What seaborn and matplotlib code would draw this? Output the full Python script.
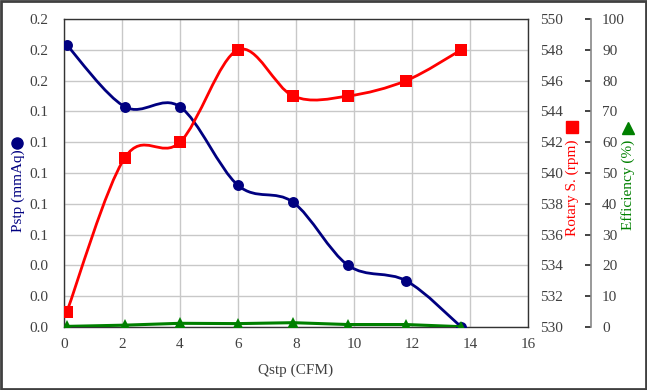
import numpy as np
import pandas as pd
import matplotlib
matplotlib.use("Agg")
import matplotlib.pyplot as plt
import seaborn as sns
from matplotlib.path import Path
from matplotlib.patches import PathPatch, Rectangle

# ---- data ----
qstp = [0.1, 2.1, 4.0, 6.0, 7.9, 9.8, 11.8, 13.7]
pstp = [0.183, 0.143, 0.143, 0.092, 0.081, 0.040, 0.030, 0.0]
rotary = [531.0, 541.0, 542.0, 548.0, 545.0, 545.0, 546.0, 548.0]
efficiency = [0.2, 0.6, 1.2, 1.1, 1.4, 0.8, 0.8, 0.1]
x_ticks = [0, 2, 4, 6, 8, 10, 12, 14, 16]
p_ticks = [0.0, 0.02, 0.04, 0.06, 0.08, 0.10, 0.12, 0.14, 0.16, 0.18, 0.20]
r_ticks = [530, 532, 534, 536, 538, 540, 542, 544, 546, 548, 550]
e_ticks = [0, 10, 20, 30, 40, 50, 60, 70, 80, 90, 100]

df = pd.DataFrame({"Qstp": qstp, "Pstp": pstp, "Rotary": rotary, "Eff": efficiency})

sns.set_theme(style="white")
plt.rcParams["font.family"] = ["Liberation Serif", "DejaVu Serif"]
plt.rcParams["font.size"] = 11

NAVY = "#000080"
RED = "#FF0000"
GREEN = "#008000"
TXT = "#404040"


def smooth_path(xs, ys):
    pts = np.column_stack([xs, ys]).astype(float)
    n = len(pts)
    verts = [pts[0]]
    codes = [Path.MOVETO]
    for i in range(n - 1):
        p0 = pts[i - 1] if i > 0 else pts[i]
        p1 = pts[i]
        p2 = pts[i + 1]
        p3 = pts[i + 2] if i + 2 < n else pts[i + 1]
        c1 = p1 + (p2 - p0) / 6.0
        c2 = p2 - (p3 - p1) / 6.0
        verts += [c1, c2, p2]
        codes += [Path.CURVE4] * 3
    return Path(verts, codes)


fig = plt.figure(figsize=(6.47, 3.90), dpi=100)
L, R, B, T = 64 / 647, 528 / 647, 1 - 327 / 390, 1 - 19 / 390
ax = fig.add_axes([L, B, R - L, T - B])
ax2 = ax.twinx()
ax3 = ax.twinx()

# left axis: Pstp
ax.set_xlim(0, 16)
ax.set_ylim(0, 0.2)
ax.set_xticks(x_ticks)
ax.set_yticks(p_ticks)
ax.set_yticklabels([f"{v:.1f}" for v in p_ticks])
ax.grid(True, color="#c8c8c8", linewidth=1.0)
ax.set_axisbelow(True)
ax.tick_params(axis="y", length=0, colors=TXT, labelsize=11, pad=11)
ax.tick_params(axis="x", length=0, colors=TXT, labelsize=11, pad=8)
for s in ["left", "bottom", "top", "right"]:
    ax.spines[s].set_color("#333333")
    ax.spines[s].set_linewidth(1.0)
ax.add_patch(PathPatch(smooth_path(qstp, pstp), facecolor="none", edgecolor=NAVY, lw=2.0, zorder=3))
sns.scatterplot(data=df, x="Qstp", y="Pstp", ax=ax, color=NAVY, marker="o", s=62,
                edgecolor=NAVY, linewidth=0, zorder=4, legend=False)
ax.set_xlabel("Qstp (CFM)", color=TXT, fontsize=11, labelpad=9)
ax.set_ylabel("")

# right axis 1: rotary speed
ax2.set_ylim(530, 550)
ax2.set_yticks(r_ticks)
ax2.tick_params(axis="y", length=0, colors=TXT, labelsize=11, pad=9)
for s in ["left", "bottom", "top", "right"]:
    ax2.spines[s].set_visible(False)
ax2.add_patch(PathPatch(smooth_path(qstp, rotary), facecolor="none", edgecolor=RED, lw=2.0, zorder=3))
sns.scatterplot(data=df, x="Qstp", y="Rotary", ax=ax2, color=RED, marker="s", s=68,
                edgecolor=RED, linewidth=0, zorder=4, legend=False)
ax2.set_ylabel("")
ax2.grid(False)

# right axis 2: efficiency
ax3.set_ylim(0, 100)
ax3.set_yticks(e_ticks)
for s in ["left", "bottom", "top"]:
    ax3.spines[s].set_visible(False)
ax3.spines["right"].set_visible(True)
ax3.spines["right"].set_position(("axes", (591 - 64) / 464))
ax3.spines["right"].set_color("#888888")
ax3.spines["right"].set_linewidth(1.2)
ax3.tick_params(axis="y", direction="in", length=4, width=1.2, color="#222222",
                colors=TXT, labelsize=11, pad=8)
ax3.tick_params(axis="y", color="#222222")
sns.lineplot(data=df, x="Qstp", y="Eff", ax=ax3, color=GREEN, lw=2.2, marker="^",
             markersize=9, markeredgewidth=0, zorder=5, legend=False)
ax3.set_ylabel("")
ax3.grid(False)
ax3.set_xlim(0, 16)

# axis titles with marker symbols
fig.text(18 / 647, 1 - 191 / 390, "Pstp (mmAq)", rotation=90, ha="center", va="center",
         color=NAVY, fontsize=11)
fig.lines.append(plt.Line2D([17 / 647], [1 - 143 / 390], marker="o", markersize=8,
                            color=NAVY, transform=fig.transFigure))
fig.text(572 / 647, 1 - 188 / 390, "Rotary S. (rpm)", rotation=90, ha="center", va="center",
         color=RED, fontsize=11)
fig.lines.append(plt.Line2D([572 / 647], [1 - 127 / 390], marker="s", markersize=8,
                            color=RED, transform=fig.transFigure))
fig.text(628 / 647, 1 - 185 / 390, "Efficiency (%)", rotation=90, ha="center", va="center",
         color=GREEN, fontsize=11)
fig.lines.append(plt.Line2D([628 / 647], [1 - 128 / 390], marker="^", markersize=8,
                            color=GREEN, transform=fig.transFigure))

fig.patches.append(Rectangle((0.002, 0.003), 0.996, 0.994, transform=fig.transFigure,
                             fill=False, edgecolor="#404040", linewidth=2))

fig.savefig("out.png", dpi=100)
